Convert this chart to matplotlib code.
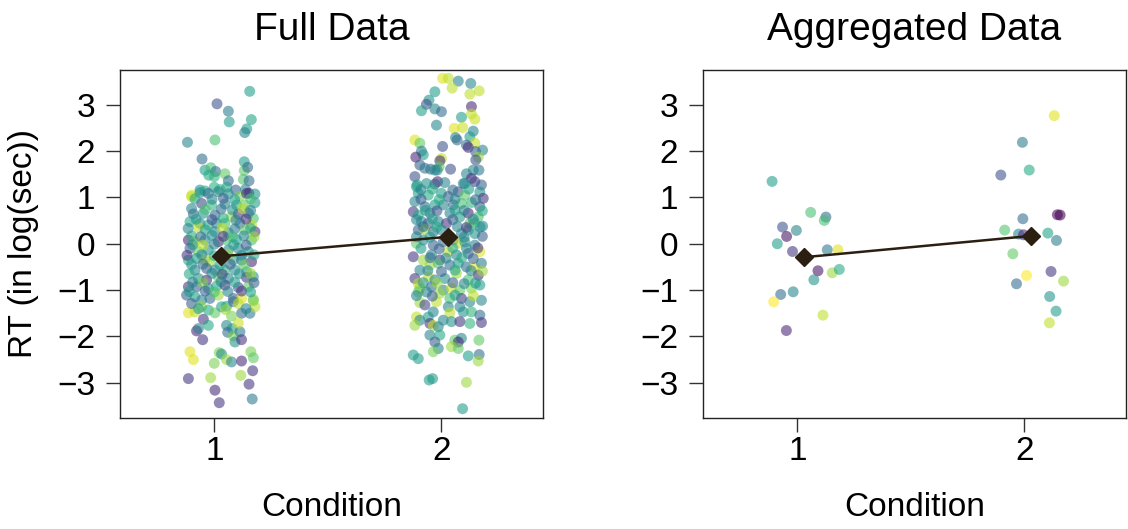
import matplotlib
matplotlib.use("Agg")
import matplotlib.pyplot as plt
import numpy as np

plt.rcParams['font.family'] = ['Liberation Sans', 'DejaVu Sans']

# ---------------- data ----------------
titles = ["Full Data", "Aggregated Data"]
x_label = "Condition"
y_label = "RT (in log(sec))"
cond_ticks = [1, 2]
y_ticks = [-3, -2, -1, 0, 1, 2, 3]

# Full data, condition 1: jittered x, RT, viridis colour fraction (subject)
full1_x = [1.156, 1.012, 1.062, 1.163, 1.066, 1.143, 1.134, 0.882, 1.003, 0.946, 1.132, 0.959, 0.985, 1.006, 1.047, 1.132, 1.147, 0.976, 1.000, 1.062, 1.128, 1.153, 0.937, 0.959, 1.000, 1.025, 1.055, 1.094, 1.137, 1.152, 0.901,
           0.900, 0.937, 0.974, 1.018, 1.062, 1.113, 1.142, 1.179, 0.944, 0.988, 1.047, 1.098, 1.135, 1.179, 0.908, 0.952, 1.003, 1.076, 1.106, 1.150, 1.172, 0.893, 0.937, 0.974, 1.010, 1.047, 1.113, 1.164, 0.930, 1.003, 1.062, 1.135, 1.179, 0.886, 0.915, 0.959, 1.018, 1.054, 1.098, 1.164, 0.893, 0.930, 0.974, 1.062, 1.106, 1.150, 0.886, 0.922, 0.959, 0.981, 1.084, 1.120, 1.164, 0.915, 0.966, 1.003, 1.047, 1.091, 1.142, 0.930, 0.966, 1.018, 1.062, 1.142, 1.172, 0.886, 0.922, 0.974, 1.010, 1.047, 1.106, 1.150, 0.878, 0.915, 0.944, 0.981, 1.018, 1.084, 1.120, 1.172,
           0.886, 0.915, 0.944, 0.974, 1.003, 1.032, 1.054, 1.084, 1.106, 1.120, 1.157, 1.179, 1.172, 0.900, 0.952, 0.974, 0.922, 0.930, 1.054, 1.079, 1.059, 1.084, 1.113, 1.106, 1.076, 1.091, 1.120, 0.949, 0.893, 0.908, 1.022, 1.032, 1.054, 1.076, 1.120, 1.161, 1.172, 1.000, 1.169, 1.117, 0.886, 0.984, 1.153, 1.003, 1.022, 1.167,
           0.915, 0.990, 1.040, 1.090, 1.160, 0.900, 0.960, 1.030, 1.080, 1.125, 1.160, 0.920, 0.990, 1.040, 1.095, 1.140, 0.885, 0.960, 1.035, 1.090, 1.160, 0.900, 0.940, 0.990, 1.040, 1.080, 1.130, 1.175, 0.905, 0.950, 1.000, 1.085, 1.140, 0.880, 0.945, 1.000, 1.060, 1.120, 1.175, 0.900, 0.950, 1.025, 1.070, 1.130, 0.890, 0.990, 1.035, 1.110, 1.160, 0.905, 0.950, 1.030, 1.090, 1.175, 0.890, 0.960, 1.000, 1.060, 1.120, 1.160, 0.930, 1.050, 1.140]
full1_y = [3.29, 3.02, 2.86, 2.68, 2.63, 2.48, 2.40, 2.19, 2.24, 1.83, 1.77, 1.59, 1.64, 1.56, 1.51, 1.58, 1.65, 1.48, 1.45, 1.36, 1.39, 1.36, 1.16, 1.14, 1.22, 1.17, 1.22, 1.16, 1.17, 1.09, 1.05,
           1.016, 1.102, 1.088, 1.124, 1.074, 1.030, 1.088, 1.074, 0.872, 0.836, 0.858, 0.836, 0.836, 0.886, 0.642, 0.656, 0.620, 0.584, 0.642, 0.656, 0.548, 0.476, 0.440, 0.404, 0.440, 0.440, 0.440, 0.404, 0.354, 0.260, 0.238, 0.296, 0.260, 0.080, 0.044, 0.080, 0.044, 0.080, 0.094, 0.080, -0.100, -0.172, -0.136, -0.136, -0.100, -0.172, -0.352, -0.316, -0.352, -0.388, -0.352, -0.352, -0.388, -0.568, -0.532, -0.568, -0.568, -0.568, -0.604, -0.748, -0.784, -0.712, -0.748, -0.726, -0.712, -0.928, -0.928, -0.964, -0.914, -0.892, -0.942, -0.928, -1.108, -1.144, -1.216, -1.180, -1.108, -1.180, -1.180, -1.202,
           -1.49, -1.47, -1.36, -1.43, -1.49, -1.36, -1.35, -1.25, -1.29, -1.50, -1.50, -1.36, -1.23, -1.29, -1.63, -1.76, -1.88, -1.83, -1.76, -1.83, -1.91, -1.99, -1.90, -1.71, -1.56, -2.12, -2.07, -2.07, -2.33, -2.50, -2.35, -2.38, -2.50, -2.55, -2.53, -2.33, -2.46, -2.58, -2.74, -2.84, -2.91, -2.89, -3.03, -3.16, -3.43, -3.35,
           0.97, 0.96, 0.98, 0.95, 0.97, 0.76, 0.74, 0.75, 0.73, 0.76, 0.72, 0.53, 0.52, 0.55, 0.51, 0.53, 0.33, 0.30, 0.34, 0.32, 0.33, 0.17, 0.15, 0.18, 0.16, 0.15, 0.17, 0.15, -0.02, -0.03, -0.01, -0.02, -0.03, -0.25, -0.24, -0.26, -0.24, -0.25, -0.24, -0.45, -0.44, -0.46, -0.44, -0.45, -0.65, -0.64, -0.66, -0.65, -0.64, -0.83, -0.84, -0.82, -0.83, -0.84, -1.03, -1.02, -1.04, -1.03, -1.02, -1.04, -1.40, -1.42, -1.40]
full1_c = [0.55, 0.25, 0.42, 0.58, 0.55, 0.55, 0.45, 0.45, 0.70, 0.35, 0.55, 0.55, 0.70, 0.35, 0.75, 0.75, 0.35, 0.60, 0.65, 0.35, 0.72, 0.35, 0.50, 0.60, 0.62, 0.65, 0.58, 0.30, 0.45, 0.10, 0.95,
           0.90, 0.50, 0.35, 0.45, 0.50, 0.80, 0.15, 0.50, 0.20, 0.65, 0.45, 0.60, 0.75, 0.55, 0.30, 0.50, 0.35, 0.85, 0.15, 0.30, 0.70, 0.60, 0.45, 0.60, 0.45, 0.70, 0.35, 0.90, 0.90, 0.45, 0.50, 0.75, 0.15, 0.10, 0.85, 0.45, 0.10, 0.70, 0.55, 0.70, 0.30, 0.75, 0.50, 0.45, 0.45, 0.55, 0.60, 0.55, 0.90, 0.85, 0.60, 0.35, 0.10, 0.45, 0.30, 0.45, 0.65, 0.50, 0.55, 0.50, 0.10, 0.75, 0.45, 0.15, 0.50, 0.15, 0.30, 0.50, 0.60, 0.15, 0.25, 0.75, 0.30, 0.55, 0.45, 0.35, 0.85, 0.30, 0.95, 0.80,
           0.95, 0.90, 0.85, 0.60, 0.75, 0.55, 0.55, 0.35, 0.90, 0.35, 0.40, 0.90, 0.80, 0.30, 0.15, 0.60, 0.10, 0.45, 0.45, 0.55, 0.35, 0.80, 0.40, 0.92, 0.80, 0.50, 0.15, 0.15, 0.95, 0.95, 0.80, 0.50, 0.85, 0.45, 0.12, 0.80, 0.75, 0.80, 0.15, 0.85, 0.15, 0.85, 0.15, 0.12, 0.15, 0.40,
           0.60, 0.45, 0.30, 0.55, 0.70, 0.45, 0.70, 0.35, 0.50, 0.90, 0.45, 0.55, 0.25, 0.60, 0.45, 0.15, 0.45, 0.55, 0.90, 0.40, 0.60, 0.60, 0.35, 0.50, 0.15, 0.70, 0.45, 0.85, 0.50, 0.90, 0.45, 0.55, 0.30, 0.15, 0.45, 0.60, 0.85, 0.45, 0.60, 0.50, 0.35, 0.55, 0.30, 0.75, 0.60, 0.45, 0.20, 0.50, 0.85, 0.45, 0.80, 0.45, 0.55, 0.30, 0.55, 0.30, 0.70, 0.45, 0.15, 0.55, 0.55, 0.85, 0.45]

# Full data, condition 2
full2_x = [2.005, 2.030, 2.074, 2.129, 2.047, 2.125, 2.166, 1.971, 1.945, 1.934, 1.912, 1.971, 2.000, 2.132, 2.132, 2.147, 2.088, 1.978, 2.056, 2.093, 2.140, 2.062, 2.069, 2.125, 1.883, 1.905, 2.147, 2.110, 2.118, 2.005, 2.181, 1.912, 2.150, 1.920, 1.887, 2.162, 2.151, 2.000, 1.993, 1.990, 1.981, 1.905, 1.927, 1.952, 1.971, 2.040, 1.883, 2.140, 2.165, 2.110, 2.132, 1.983, 2.096, 1.893,
           1.890, 1.934, 1.971, 2.015, 2.103, 2.147, 2.176, 1.898, 1.942, 2.000, 2.030, 2.074, 2.103, 2.169, 2.184, 1.883, 1.927, 1.971, 2.008, 2.052, 2.088, 2.132, 2.169, 1.876, 1.898, 1.949, 2.037, 2.081, 2.118, 2.162, 1.912, 1.942, 1.986, 2.022, 2.125, 2.147, 2.181, 1.898, 1.927, 1.964, 2.000, 2.088, 2.118, 2.147, 1.890, 1.920, 1.964, 2.008, 2.052, 2.074, 2.103, 2.147, 1.876, 1.920, 1.956, 1.993, 2.030, 2.066, 2.118, 2.169, 1.905, 1.949, 1.986, 2.037, 2.074, 2.110, 2.147, 2.176, 1.883, 1.898, 1.942, 1.971, 2.015, 2.066, 2.118, 2.162, 1.905, 1.956, 2.008, 2.044, 2.081, 2.132, 2.169,
           1.898, 1.934, 1.993, 2.037, 2.088, 2.125, 2.176, 1.905, 1.927, 1.978, 2.030, 2.037, 2.081, 2.096, 2.132, 2.169, 1.890, 1.905, 1.942, 1.964, 1.883, 1.949, 1.964, 2.008, 2.044, 2.081, 2.125, 2.176, 1.986, 1.949, 1.993, 2.059, 2.088, 2.074, 1.971, 2.044, 2.074, 1.986, 1.964, 2.165, 1.876, 1.898, 2.118, 2.166, 2.162, 1.946, 1.961, 2.110, 2.093,
           1.910, 1.960, 2.050, 2.120, 1.910, 1.990, 2.060, 2.150, 1.930, 1.980, 2.060, 2.100, 2.180, 1.890, 1.960, 2.050, 2.140, 1.920, 1.980, 2.070, 2.110, 2.170, 1.890, 1.950, 2.040, 2.100, 2.180, 1.910, 1.990, 2.050, 2.110, 2.160, 1.950, 2.020, 2.090, 2.140, 1.940, 2.000, 2.060, 2.130, 2.180, 1.920, 1.980, 2.050, 2.100, 2.150, 1.890, 1.960, 2.060, 2.140]
full2_y = [3.57, 3.57, 3.51, 3.46, 3.36, 3.23, 3.30, 3.28, 3.10, 3.01, 2.87, 2.91, 2.85, 2.96, 2.80, 2.69, 2.73, 2.56, 2.49, 2.51, 2.43, 2.29, 2.24, 2.31, 2.24, 2.17, 2.17, 2.13, 2.08, 2.10, 2.02, 2.00, 1.99, 1.92, 1.87, 1.87, 1.81, 1.84, 1.79, 1.66, 1.59, 1.70, 1.63, 1.61, 1.59, 1.61, 1.45, 1.59, 1.59, 1.51, 1.41, 1.34, 1.30, 1.27,
           1.23, 1.30, 1.29, 1.32, 1.30, 1.34, 1.27, 1.09, 1.05, 1.09, 1.02, 1.12, 1.05, 1.12, 0.98, 0.91, 0.80, 0.84, 0.84, 0.84, 0.87, 0.89, 0.80, 0.69, 0.62, 0.66, 0.66, 0.58, 0.66, 0.58, 0.48, 0.44, 0.48, 0.44, 0.44, 0.45, 0.38, 0.30, 0.31, 0.26, 0.30, 0.22, 0.30, 0.22, 0.01, 0.08, -0.03, 0.04, 0.08, 0.01, 0.04, -0.03, -0.28, -0.35, -0.24, -0.35, -0.17, -0.24, -0.21, -0.17, -0.57, -0.46, -0.42, -0.46, -0.42, -0.50, -0.51, -0.42, -0.75, -0.86, -0.71, -0.78, -0.75, -0.64, -0.78, -0.68, -0.96, -0.93, -1.00, -0.96, -1.00, -0.96, -0.89,
           -1.04, -1.04, -1.07, -1.18, -1.18, -1.25, -1.22, -1.27, -1.32, -1.25, -1.36, -1.49, -1.36, -1.47, -1.47, -1.54, -1.58, -1.65, -1.58, -1.47, -1.76, -1.72, -1.76, -1.65, -1.68, -1.68, -1.72, -1.70, -1.79, -1.97, -1.97, -2.08, -2.04, -2.12, -2.12, -2.22, -2.26, -2.26, -2.33, -2.08, -2.40, -2.48, -2.42, -2.39, -2.53, -2.94, -2.91, -2.99, -3.56,
           1.17, 1.18, 1.16, 1.18, 0.96, 0.95, 0.96, 0.95, 0.72, 0.71, 0.73, 0.72, 0.71, 0.52, 0.54, 0.52, 0.53, 0.37, 0.36, 0.37, 0.35, 0.36, 0.15, 0.14, 0.15, 0.14, 0.16, -0.10, -0.11, -0.09, -0.10, -0.09, -0.30, -0.31, -0.30, -0.32, -0.58, -0.60, -0.57, -0.58, -0.59, -0.84, -0.85, -0.84, -0.86, -0.85, -1.12, -1.13, -1.11, -1.12]
full2_c = [0.95, 0.90, 0.45, 0.45, 0.90, 0.90, 0.90, 0.55, 0.50, 0.25, 0.55, 0.45, 0.35, 0.10, 0.90, 0.92, 0.55, 0.45, 0.95, 0.92, 0.45, 0.45, 0.35, 0.55, 0.95, 0.75, 0.92, 0.35, 0.12, 0.25, 0.45, 0.40, 0.30, 0.55, 0.10, 0.85, 0.25, 0.90, 0.12, 0.75, 0.45, 0.30, 0.40, 0.35, 0.45, 0.25, 0.25, 0.45, 0.40, 0.45, 0.12, 0.10, 0.45, 0.55,
           0.55, 0.50, 0.30, 0.45, 0.45, 0.20, 0.30, 0.55, 0.60, 0.55, 0.30, 0.25, 0.75, 0.50, 0.15, 0.45, 0.35, 0.55, 0.45, 0.35, 0.70, 0.65, 0.30, 0.15, 0.60, 0.35, 0.45, 0.55, 0.10, 0.70, 0.45, 0.30, 0.45, 0.15, 0.75, 0.70, 0.45, 0.30, 0.85, 0.35, 0.45, 0.45, 0.60, 0.50, 0.75, 0.45, 0.30, 0.35, 0.25, 0.90, 0.50, 0.45, 0.15, 0.85, 0.45, 0.15, 0.90, 0.45, 0.30, 0.95, 0.45, 0.85, 0.70, 0.35, 0.55, 0.35, 0.95, 0.40, 0.15, 0.90, 0.90, 0.45, 0.50, 0.85, 0.70, 0.12, 0.85, 0.35, 0.45, 0.92, 0.75, 0.80, 0.55,
           0.75, 0.45, 0.85, 0.70, 0.15, 0.45, 0.45, 0.85, 0.20, 0.90, 0.45, 0.90, 0.45, 0.50, 0.65, 0.35, 0.90, 0.45, 0.55, 0.45, 0.85, 0.15, 0.90, 0.45, 0.50, 0.15, 0.65, 0.15, 0.45, 0.45, 0.60, 0.75, 0.45, 0.12, 0.30, 0.85, 0.75, 0.45, 0.80, 0.75, 0.55, 0.55, 0.55, 0.35, 0.85, 0.55, 0.55, 0.85, 0.55,
           0.45, 0.60, 0.35, 0.55, 0.30, 0.60, 0.45, 0.35, 0.55, 0.25, 0.55, 0.45, 0.60, 0.45, 0.55, 0.30, 0.45, 0.35, 0.60, 0.45, 0.15, 0.50, 0.45, 0.55, 0.85, 0.45, 0.30, 0.55, 0.30, 0.60, 0.45, 0.15, 0.35, 0.45, 0.60, 0.30, 0.45, 0.30, 0.60, 0.45, 0.85, 0.50, 0.85, 0.30, 0.45, 0.55, 0.45, 0.30, 0.55, 0.90]

# Aggregated data (one point per subject)
agg1_x = [0.889, 1.059, 1.126, 1.119, 0.935, 0.996, 0.953, 0.912, 0.979, 1.132, 1.179, 1.091, 1.154, 1.185, 1.073, 0.982, 0.927, 0.896, 1.113, 0.952]
agg1_y = [1.346, 0.677, 0.576, 0.504, 0.360, 0.288, 0.158, 0.000, -0.166, -0.130, -0.130, -0.583, -0.626, -0.554, -0.778, -1.037, -1.094, -1.253, -1.541, -1.872]
agg1_c = [0.55, 0.70, 0.35, 0.70, 0.25, 0.45, 0.05, 0.55, 0.15, 0.40, 0.95, 0.05, 0.85, 0.60, 0.50, 0.45, 0.35, 1.00, 0.90, 0.10]
agg2_x = [2.131, 1.991, 2.021, 1.896, 2.145, 2.157, 1.993, 1.913, 2.103, 1.974, 1.996, 2.141, 1.949, 2.117, 2.009, 1.965, 2.172, 2.111, 2.139, 2.110]
agg2_y = [2.765, 2.189, 1.591, 1.483, 0.626, 0.619, 0.540, 0.295, 0.230, 0.209, 0.194, 0.072, -0.216, -0.598, -0.684, -0.864, -0.806, -1.138, -1.454, -1.706]
agg2_c = [0.95, 0.42, 0.60, 0.25, 0.02, 0.00, 0.35, 0.72, 0.58, 0.45, 0.10, 0.42, 0.75, 0.15, 1.00, 0.35, 0.85, 0.50, 0.55, 0.90]

# Condition means (diamonds)
full_means = [-0.27, 0.15]
agg_means = [-0.29, 0.17]

# ---------------- figure ----------------
W, H = 1128, 529
fig = plt.figure(figsize=(W / 100, H / 100), dpi=100)
ax1 = fig.add_axes([120 / W, (H - 418) / H, 423 / W, 348 / H])
ax2 = fig.add_axes([703 / W, (H - 418) / H, 423 / W, 348 / H])

cmap = plt.get_cmap('viridis')
line_col = '#2B1F12'
panels = [
    (ax1, [(full1_x, full1_y, full1_c), (full2_x, full2_y, full2_c)], full_means),
    (ax2, [(agg1_x, agg1_y, agg1_c), (agg2_x, agg2_y, agg2_c)], agg_means),
]
for ax, groups, means in panels:
    for gx, gy, gc in groups:
        ax.scatter(gx, gy, s=62, c=cmap(np.array(gc)), alpha=0.58,
                   edgecolors='none', zorder=2)
    mx = np.array(cond_ticks) + 0.03
    ax.plot(mx, means, color=line_col, lw=1.8, zorder=3)
    ax.plot(mx, means, 'D', color=line_col, ms=9.5, zorder=4)
    ax.set_xlim(0.585, 2.447)
    ax.set_ylim(-3.76, 3.75)
    ax.set_xticks(cond_ticks)
    ax.set_yticks(y_ticks)
    ax.tick_params(axis='both', direction='out', length=10, width=1,
                   labelsize=24, color='#333333')
    ax.tick_params(axis='y', pad=8)
    ax.tick_params(axis='x', pad=3)
    for sp in ax.spines.values():
        sp.set_linewidth(1)
        sp.set_color('#222222')

for ax, t in zip((ax1, ax2), titles):
    bb = ax.get_position()
    cx = (bb.x0 + bb.x1) / 2
    fig.text(cx, 1 - 40 / H, t, ha='center', va='baseline', fontsize=28)
    fig.text(cx, 1 - 516 / H, x_label, ha='center', va='baseline', fontsize=24)

fig.text(24 / W, (H - 244) / H, y_label, rotation=90, ha='center', va='center', fontsize=24)

fig.savefig('out.png', dpi=100)
